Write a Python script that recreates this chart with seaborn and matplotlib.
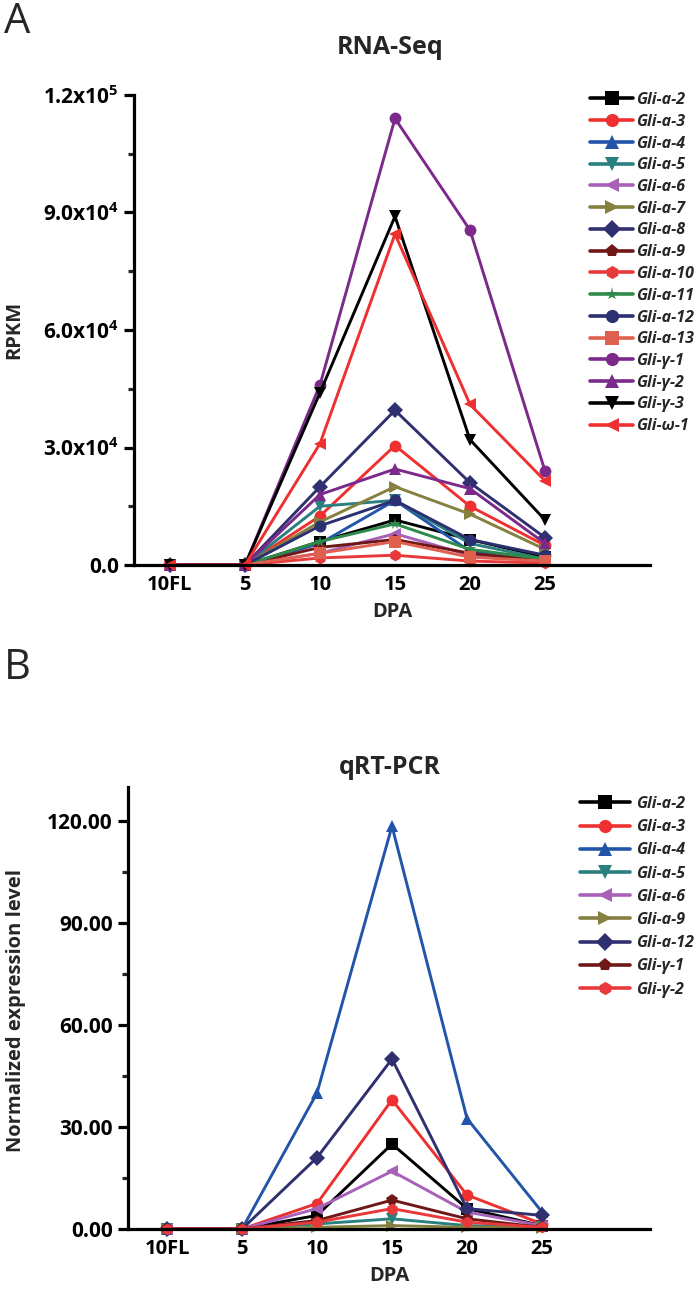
import numpy as np
import pandas as pd
import seaborn as sns
import matplotlib
matplotlib.use("Agg")
import matplotlib.pyplot as plt
from matplotlib.lines import Line2D
from matplotlib.ticker import FixedLocator, FixedFormatter, MultipleLocator

# ---------------- data ----------------
stages = ["10FL", "5", "10", "15", "20", "25"]

rna_genes = ["Gli-a-2", "Gli-a-3", "Gli-a-4", "Gli-a-5", "Gli-a-6", "Gli-a-7",
             "Gli-a-8", "Gli-a-9", "Gli-a-10", "Gli-a-11", "Gli-a-12", "Gli-a-13",
             "Gli-γ-1", "Gli-γ-2", "Gli-γ-3", "Gli-ω-1"]
rna_a2 = [0, 0, 6000, 11500, 6500, 2000]
rna_a3 = [0, 0, 12500, 30500, 15000, 5000]
rna_a4 = [0, 0, 5500, 16500, 3500, 1500]
rna_a5 = [0, 0, 15000, 16500, 5500, 1500]
rna_a6 = [0, 0, 3000, 8000, 2500, 1000]
rna_a7 = [0, 0, 11000, 20000, 13000, 4000]
rna_a8 = [0, 0, 20000, 39500, 21000, 7000]
rna_a9 = [0, 0, 4500, 6500, 3000, 1000]
rna_a10 = [0, 0, 1800, 2500, 1000, 500]
rna_a11 = [0, 0, 6000, 10500, 4000, 1500]
rna_a12 = [0, 0, 10000, 16500, 6500, 2500]
rna_a13 = [0, 0, 3000, 6000, 2000, 1000]
rna_g1 = [0, 0, 46000, 114000, 85500, 24000]
rna_g2 = [0, 0, 18000, 24500, 19500, 5500]
rna_g3 = [0, 0, 44000, 89000, 32000, 11500]
rna_w1 = [0, 0, 31000, 84500, 41000, 21500]
rna_values = [rna_a2, rna_a3, rna_a4, rna_a5, rna_a6, rna_a7, rna_a8, rna_a9,
              rna_a10, rna_a11, rna_a12, rna_a13, rna_g1, rna_g2, rna_g3, rna_w1]

qpcr_genes = ["Gli-a-2", "Gli-a-3", "Gli-a-4", "Gli-a-5", "Gli-a-6", "Gli-a-9",
              "Gli-a-12", "Gli-γ-1", "Gli-γ-2"]
q_a2 = [0, 0, 4, 25, 6, 1]
q_a3 = [0, 0, 7.5, 38, 10, 1.5]
q_a4 = [0, 0, 40, 118.5, 32.5, 5]
q_a5 = [0, 0, 1.5, 3, 1, 0.5]
q_a6 = [0, 0, 6, 17, 5, 1]
q_a9 = [0, 0, 0.5, 1, 0.5, 0.3]
q_a12 = [0, 0, 21, 50, 6, 4]
q_g1 = [0, 0, 2.5, 8.5, 3, 0.5]
q_g2 = [0, 0, 2, 6, 2, 0.5]
qpcr_values = [q_a2, q_a3, q_a4, q_a5, q_a6, q_a9, q_a12, q_g1, q_g2]

rna_yticks = [0, 30000, 60000, 90000, 120000]
rna_ylabels = ["0.0", r"$\mathbf{3.0x10^{4}}$", r"$\mathbf{6.0x10^{4}}$",
               r"$\mathbf{9.0x10^{4}}$", r"$\mathbf{1.2x10^{5}}$"]
qpcr_yticks = [0, 30, 60, 90, 120]
qpcr_ylabels = ["0.00", "30.00", "60.00", "90.00", "120.00"]

# ---------------- styles ----------------
rna_colors = ["#000000", "#EE3030", "#2255AA", "#2A7F7F", "#A860B8", "#858040",
              "#303070", "#701818", "#E83A3A", "#2E8B4A", "#2A3070", "#E06050",
              "#7B2A8C", "#7B2A8C", "#000000", "#EE3030"]
rna_markers = ["s", "o", "^", "v", "<", ">", "D", "p", "h", "*", "o", "s",
               "o", "^", "v", "<"]
q_colors = ["#000000", "#EE3030", "#2255AA", "#2A7F7F", "#A860B8", "#858040",
            "#303070", "#701818", "#E83A3A"]
q_markers = ["s", "o", "^", "v", "<", ">", "D", "p", "h"]

sns.set_theme(style="white")
plt.rcParams["font.family"] = ["Open Sans", "DejaVu Sans"]
plt.rcParams["font.weight"] = "bold"
plt.rcParams["mathtext.fontset"] = "custom"
plt.rcParams["mathtext.rm"] = "Open Sans"
plt.rcParams["mathtext.bf"] = "Open Sans:bold"
plt.rcParams["axes.unicode_minus"] = False

W, H = 700, 1297
fig = plt.figure(figsize=(W / 100, H / 100), dpi=100)


def fx(px):
    return px / W


def fy(py):
    return 1 - py / H


def build_df(genes, values):
    rows = []
    for g, vals in zip(genes, values):
        for s, v in zip(stages, vals):
            rows.append({"gene": g, "stage": s, "value": v})
    return pd.DataFrame(rows)


def draw(ax, genes, values, colors, markers):
    df = build_df(genes, values)
    pal = dict(zip(genes, colors))
    mk = dict(zip(genes, markers))
    sns.lineplot(data=df, x="stage", y="value", hue="gene", style="gene",
                 palette=pal, markers=mk, dashes=False, sort=False,
                 errorbar=None, legend=False, ax=ax, linewidth=2.1,
                 markersize=8.5, markeredgewidth=0, clip_on=False)
    for ln in ax.lines:
        ln.set_clip_on(False)


def style_axes(ax, xlims):
    for s in ["top", "right"]:
        ax.spines[s].set_visible(False)
    for s in ["left", "bottom"]:
        ax.spines[s].set_linewidth(2.3)
        ax.spines[s].set_color("black")
    ax.set_xlim(*xlims)
    ax.tick_params(axis="y", which="major", direction="out", length=7, width=2.3,
                   labelsize=15, pad=4, left=True, colors="black")
    ax.tick_params(axis="y", which="minor", direction="out", length=4, width=2.3,
                   left=True)
    ax.tick_params(axis="x", which="major", direction="out", length=0, width=2.3,
                   labelsize=14.5, pad=7, bottom=True, colors="black")
    for lab in ax.get_xticklabels() + ax.get_yticklabels():
        lab.set_fontweight("bold")
    ax.set_xlabel("DPA", fontsize=14.5, fontweight="bold", labelpad=5)
    ax.grid(False)


def make_legend(ax, genes, colors, markers, x0, y0, handlelength, textpad, spacing):
    handles = [Line2D([0], [0], color=c, marker=m, lw=2.6, markersize=9.5,
                      markeredgewidth=0) for c, m in zip(colors, markers)]
    leg = ax.legend(handles, genes, loc="upper left",
                    bbox_to_anchor=(fx(x0), fy(y0)), bbox_transform=fig.transFigure,
                    frameon=False, borderpad=0, borderaxespad=0,
                    handlelength=handlelength, handletextpad=textpad,
                    labelspacing=spacing,
                    prop={"family": ["Open Sans", "DejaVu Sans"], "weight": "bold",
                          "style": "italic", "size": 11.5})
    return leg


# ---------------- panel A ----------------
axA = fig.add_axes([fx(134), fy(565), fx(650) - fx(134), fy(95) - fy(565)])
draw(axA, rna_genes, rna_values, rna_colors, rna_markers)
axA.set_ylim(0, 120000)
axA.yaxis.set_major_locator(FixedLocator(rna_yticks))
axA.yaxis.set_major_formatter(FixedFormatter(rna_ylabels))
axA.yaxis.set_minor_locator(MultipleLocator(15000))
style_axes(axA, (-0.48, 6.4))
axA.set_ylabel("RPKM", fontsize=14.5, fontweight="bold")
axA.yaxis.set_label_coords(fx(24), fy(330), transform=fig.transFigure)
make_legend(axA, rna_genes, rna_colors, rna_markers, 590, 92, 2.7, 0.2, 0.36)
fig.text(fx(390), fy(48), "RNA-Seq", ha="center", va="center", fontsize=18,
         fontweight="bold")
fig.text(fx(4), fy(22), "A", ha="left", va="center", fontsize=30,
         fontweight="normal")

# ---------------- panel B ----------------
axB = fig.add_axes([fx(128), fy(1229), fx(650) - fx(128), fy(787) - fy(1229)])
draw(axB, qpcr_genes, qpcr_values, q_colors, q_markers)
axB.set_ylim(0, 130)
axB.yaxis.set_major_locator(FixedLocator(qpcr_yticks))
axB.yaxis.set_major_formatter(FixedFormatter(qpcr_ylabels))
axB.yaxis.set_minor_locator(MultipleLocator(15))
style_axes(axB, (-0.52, 6.44))
axB.set_ylabel("Normalized expression level", fontsize=14.5, fontweight="bold")
axB.yaxis.set_label_coords(fx(26), fy(1010), transform=fig.transFigure)
make_legend(axB, qpcr_genes, q_colors, q_markers, 580, 796, 3.1, 0.4, 0.45)
fig.text(fx(390), fy(767), "qRT-PCR", ha="center", va="center", fontsize=18,
         fontweight="bold")
fig.text(fx(4), fy(668), "B", ha="left", va="center", fontsize=30,
         fontweight="normal")

fig.savefig("out.png", dpi=100, facecolor="white")
